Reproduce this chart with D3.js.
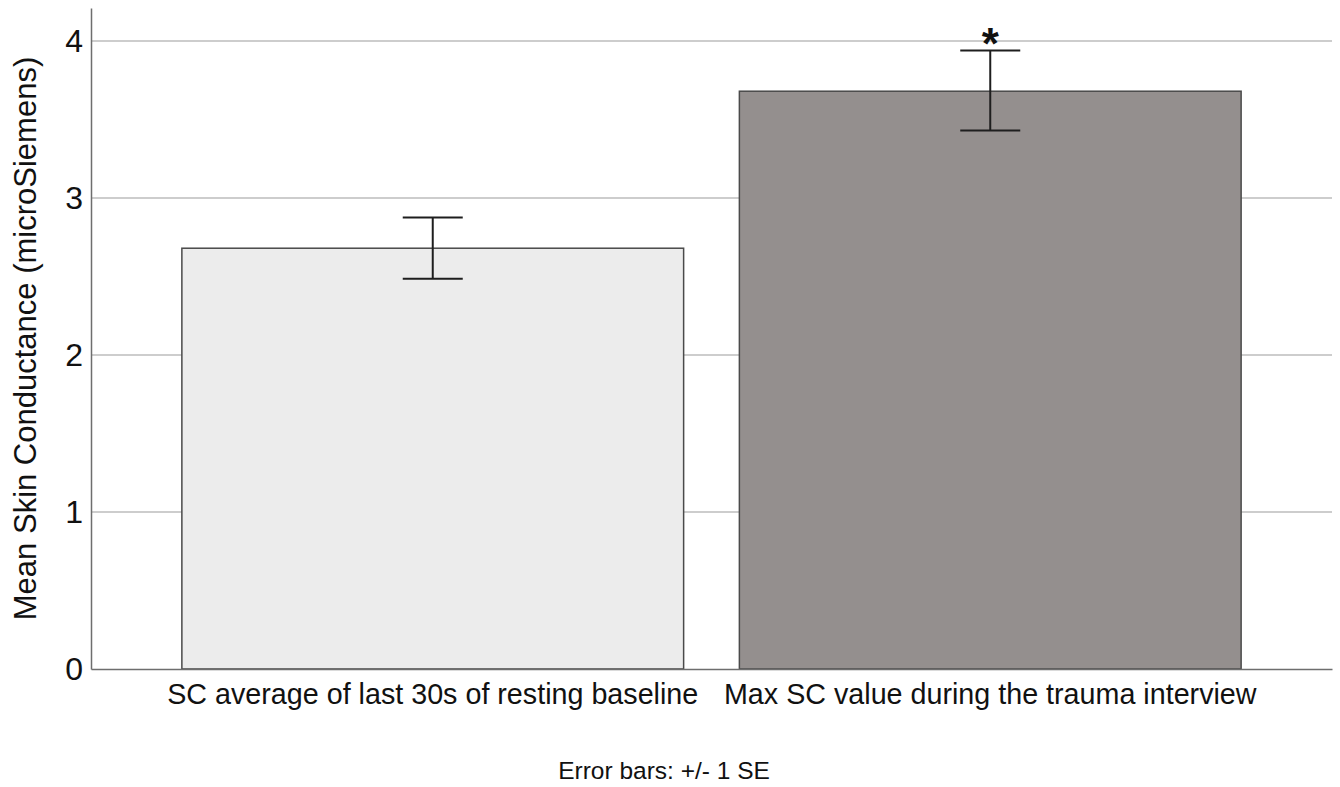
<!DOCTYPE html>
<html>
<head>
<meta charset="utf-8">
<script src="https://cdn.jsdelivr.net/npm/d3@7"></script>
<style>
  html, body { margin: 0; padding: 0; background: #ffffff; }
  svg { display: block; font-family: "Liberation Sans", Arial, Helvetica, sans-serif; }
</style>
</head>
<body>
<svg id="chart" width="1340" height="787"></svg>
<script>
// Skin conductance: resting baseline vs. peak during the trauma interview
const categories = [
  "SC average of last 30s of resting baseline",
  "Max SC value during the trauma interview"
];
const means = [2.68, 3.68];
const seLow = [2.485, 3.43];
const seHigh = [2.875, 3.94];
const significance = ["", "*"];
const barColors = ["#ececec", "#948f8e"];
const yTicks = [0, 1, 2, 3, 4];
const yTitle = "Mean Skin Conductance (microSiemens)";
const footnote = "Error bars: +/- 1 SE";

const svg = d3.select("#chart");

const plotLeft = 91, plotRight = 1332, plotTop = 8, plotBottom = 669;

const x = d3.scaleBand()
  .domain(categories)
  .range([plotLeft, plotRight])
  .paddingInner(0.1)
  .paddingOuter(0.163);

const y = d3.scaleLinear()
  .domain([0, 4.21])
  .range([plotBottom, plotTop]);

// horizontal gridlines
svg.append("g")
  .selectAll("line")
  .data(yTicks.filter(d => d > 0))
  .join("line")
  .attr("x1", plotLeft).attr("x2", plotRight)
  .attr("y1", d => y(d)).attr("y2", d => y(d))
  .attr("stroke", "#bdbdbd")
  .attr("stroke-width", 1.5);

// bars
const data = categories.map((c, i) => ({
  cat: c, mean: means[i], lo: seLow[i], hi: seHigh[i], sig: significance[i], color: barColors[i]
}));

svg.append("g")
  .selectAll("rect")
  .data(data)
  .join("rect")
  .attr("x", d => x(d.cat))
  .attr("y", d => y(d.mean))
  .attr("width", x.bandwidth())
  .attr("height", d => y(0) - y(d.mean))
  .attr("fill", d => d.color)
  .attr("stroke", "#4a4a4a")
  .attr("stroke-width", 1.5);

// error bars
const capHalf = 30;
const eb = svg.append("g").attr("stroke", "#1e1e1e").attr("stroke-width", 2);
data.forEach(d => {
  const cx = x(d.cat) + x.bandwidth() / 2;
  eb.append("line").attr("x1", cx).attr("x2", cx).attr("y1", y(d.hi)).attr("y2", y(d.lo));
  eb.append("line").attr("x1", cx - capHalf).attr("x2", cx + capHalf).attr("y1", y(d.hi)).attr("y2", y(d.hi));
  eb.append("line").attr("x1", cx - capHalf).attr("x2", cx + capHalf).attr("y1", y(d.lo)).attr("y2", y(d.lo));
});

// significance marker
svg.append("g")
  .selectAll("text")
  .data(data.filter(d => d.sig))
  .join("text")
  .attr("x", d => x(d.cat) + x.bandwidth() / 2)
  .attr("y", d => y(d.hi) + 9)
  .attr("text-anchor", "middle")
  .attr("font-size", 44)
  .attr("font-weight", "bold")
  .attr("fill", "#111")
  .text(d => d.sig);

// y axis
const yAxis = svg.append("g")
  .attr("transform", `translate(${plotLeft},0)`)
  .call(d3.axisLeft(y).tickValues(yTicks).tickSize(0).tickPadding(8).tickFormat(d3.format("d")));
yAxis.select(".domain").attr("stroke", "#6e6e6e").attr("stroke-width", 1.5);
yAxis.selectAll("text")
  .attr("font-size", 32)
  .attr("fill", "#111")
  .attr("font-family", "Liberation Sans, Arial, sans-serif");

// x axis baseline and category labels
const xAxis = svg.append("g")
  .attr("transform", `translate(0,${plotBottom})`)
  .call(d3.axisBottom(x).tickSize(0).tickPadding(0));
xAxis.select(".domain").attr("stroke", "#6e6e6e").attr("stroke-width", 1.5);
xAxis.selectAll("text")
  .attr("y", 35)
  .attr("dy", 0)
  .attr("font-size", 28.7)
  .attr("fill", "#111")
  .attr("font-family", "Liberation Sans, Arial, sans-serif");

// y axis title
svg.append("text")
  .attr("transform", `translate(36,${(55 + 622) / 2}) rotate(-90)`)
  .attr("text-anchor", "middle")
  .attr("font-size", 31)
  .attr("fill", "#111")
  .text(yTitle);

// footnote
svg.append("text")
  .attr("x", 664)
  .attr("y", 779)
  .attr("text-anchor", "middle")
  .attr("font-size", 24.5)
  .attr("fill", "#111")
  .text(footnote);
</script>
</body>
</html>
